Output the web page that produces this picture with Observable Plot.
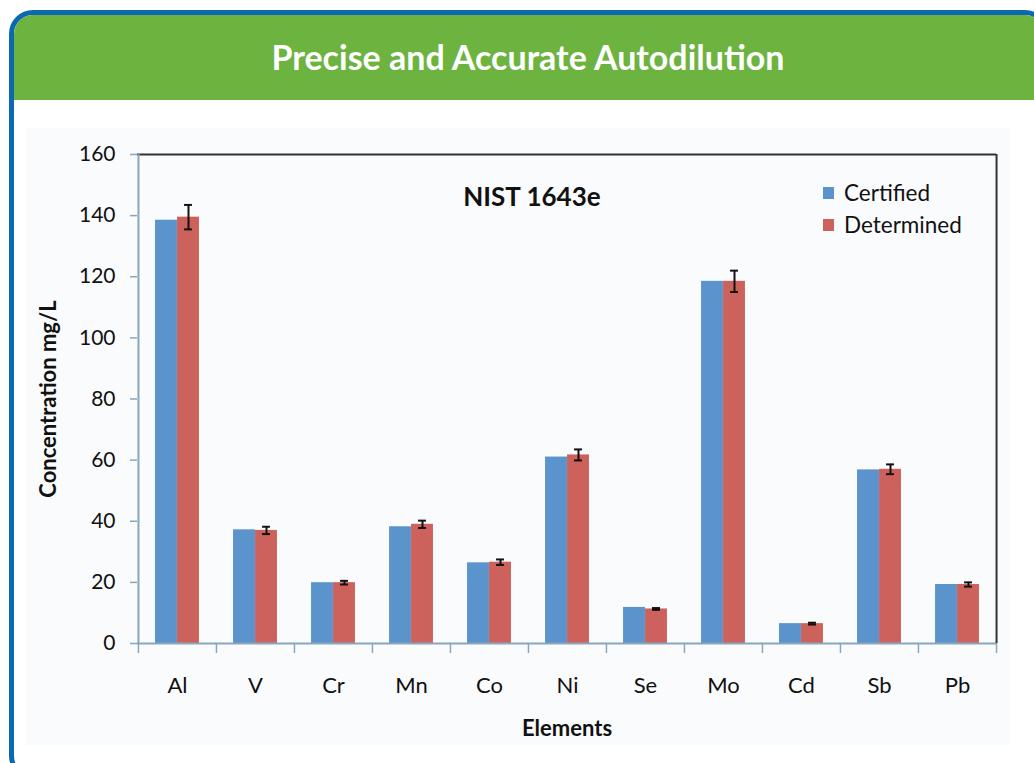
<!DOCTYPE html>
<html>
<head>
<meta charset="utf-8">
<script src="https://cdn.jsdelivr.net/npm/d3@7"></script>
<script src="https://cdn.jsdelivr.net/npm/@observablehq/plot@0.6"></script>
<style>
  html, body { margin: 0; padding: 0; width: 1034px; height: 763px; overflow: hidden; background: #fff; font-family: Lato, "Open Sans", sans-serif; }
  #box { position: absolute; left: 9px; top: 10px; width: 1040px; height: 770px; border: 5px solid #0b69b1; border-radius: 24px; overflow: hidden; box-sizing: border-box; background: #fff; }
  #header { position: absolute; left: 0; top: 0; width: 100%; height: 85px; background: #6db33f; }
  #title { position: absolute; left: 0; top: 0; width: 1028px; height: 85px; line-height: 84px; text-align: center; color: #fff; font-weight: bold; font-size: 34px; font-family: Lato, "Open Sans", sans-serif; }
  #panel { position: absolute; left: 26px; top: 128px; width: 984px; height: 617px; background: #fafbfd; }
  #chart { position: absolute; left: 0; top: 120px; }
  #subtitle { position: absolute; left: 432px; top: 180px; width: 200px; text-align: center; font-weight: bold; font-size: 26px; color: #111; }
  .leg { position: absolute; left: 823px; font-size: 22.5px; color: #111; display: flex; align-items: center; }
  .sw { width: 11px; height: 12px; margin-right: 10px; }
</style>
</head>
<body>
<div id="box"><div id="header"></div><div id="title">Precise and Accurate Autodilution</div></div>
<div id="panel"></div>
<div id="chart"></div>
<div id="subtitle">NIST 1643e</div>
<div class="leg" style="top:179px"><div class="sw" style="background:#5b93cd"></div>Certified</div>
<div class="leg" style="top:211px"><div class="sw" style="background:#cd625c"></div>Determined</div>
<script>
const elements = ["Al", "V", "Cr", "Mn", "Co", "Ni", "Se", "Mo", "Cd", "Sb", "Pb"];
const certified = [138.5, 37.2, 19.9, 38.2, 26.4, 61.0, 11.8, 118.5, 6.5, 56.8, 19.3];
const determined = [139.5, 37.0, 19.9, 39.0, 26.6, 61.7, 11.3, 118.5, 6.5, 57.0, 19.3];
const errors = [4.0, 1.2, 0.6, 1.2, 0.9, 1.8, 0.3, 3.5, 0.3, 1.6, 0.7];
const yTicks = [0, 20, 40, 60, 80, 100, 120, 140, 160];

const cert = elements.map((e, i) => ({element: e, value: certified[i]}));
const det = elements.map((e, i) => ({element: e, value: determined[i], err: errors[i]}));

const W = 1034, mL = 137, mR = 38;
const step = (W - mL - mR) / elements.length;
const half = step / 2;
const barW = 22;
const capW = 8;
const redCenter = barW / 2;
const axisCol = "#8aa6bd";
const darkCol = "#333";

const chart = Plot.plot({
  width: W,
  height: 630,
  marginLeft: mL,
  marginRight: mR,
  marginTop: 34,
  marginBottom: 107,
  style: {fontFamily: "Lato, 'Open Sans', sans-serif", background: "transparent", color: "#111"},
  x: {domain: elements, padding: 0, label: null},
  y: {domain: [0, 160], label: null},
  marks: [
    Plot.barY(cert, {x: "element", y: "value", fill: "#5b93cd", insetLeft: half - barW, insetRight: half}),
    Plot.barY(det, {x: "element", y: "value", fill: "#cd625c", insetLeft: half, insetRight: half - barW}),
    Plot.ruleX(det, {x: "element", y1: d => d.value - d.err, y2: d => d.value + d.err, dx: redCenter, stroke: "#111", strokeWidth: 2}),
    Plot.tickY(det, {x: "element", y: d => d.value - d.err, dx: redCenter, insetLeft: half - capW / 2, insetRight: half - capW / 2, stroke: "#111", strokeWidth: 2}),
    Plot.tickY(det, {x: "element", y: d => d.value + d.err, dx: redCenter, insetLeft: half - capW / 2, insetRight: half - capW / 2, stroke: "#111", strokeWidth: 2}),
    // frame lines
    Plot.ruleY([0], {stroke: axisCol, strokeWidth: 2}),
    Plot.ruleY([160], {stroke: darkCol, strokeWidth: 2}),
    Plot.ruleX([elements[0]], {dx: -half, stroke: axisCol, strokeWidth: 2}),
    Plot.ruleX([elements[elements.length - 1]], {dx: half, stroke: darkCol, strokeWidth: 2}),
    // axes
    Plot.axisY({ticks: yTicks, tickSize: 7, stroke: axisCol, strokeWidth: 1.5, fontSize: 21, tickPadding: 15, fill: "#111", label: null}),
    Plot.axisX({tickSize: 0, tickPadding: 34, fontSize: 22, fill: "#111", label: null}),
    Plot.axisX({tickSize: 10, text: null, dx: -half, stroke: axisCol, strokeWidth: 1.5, label: null}),
    Plot.axisX([elements[elements.length - 1]], {tickSize: 10, text: null, dx: half, stroke: axisCol, strokeWidth: 1.5, label: null}),
    Plot.text(["Elements"], {frameAnchor: "bottom", dy: 92, fontSize: 22, fontWeight: "bold", fill: "#111"}),
    Plot.text(["Concentration mg/L"], {frameAnchor: "left", textAnchor: "middle", dx: -89, rotate: -90, fontSize: 22, fontWeight: "bold", fill: "#111"})
  ]
});
document.getElementById("chart").appendChild(chart);
</script>
</body>
</html>
